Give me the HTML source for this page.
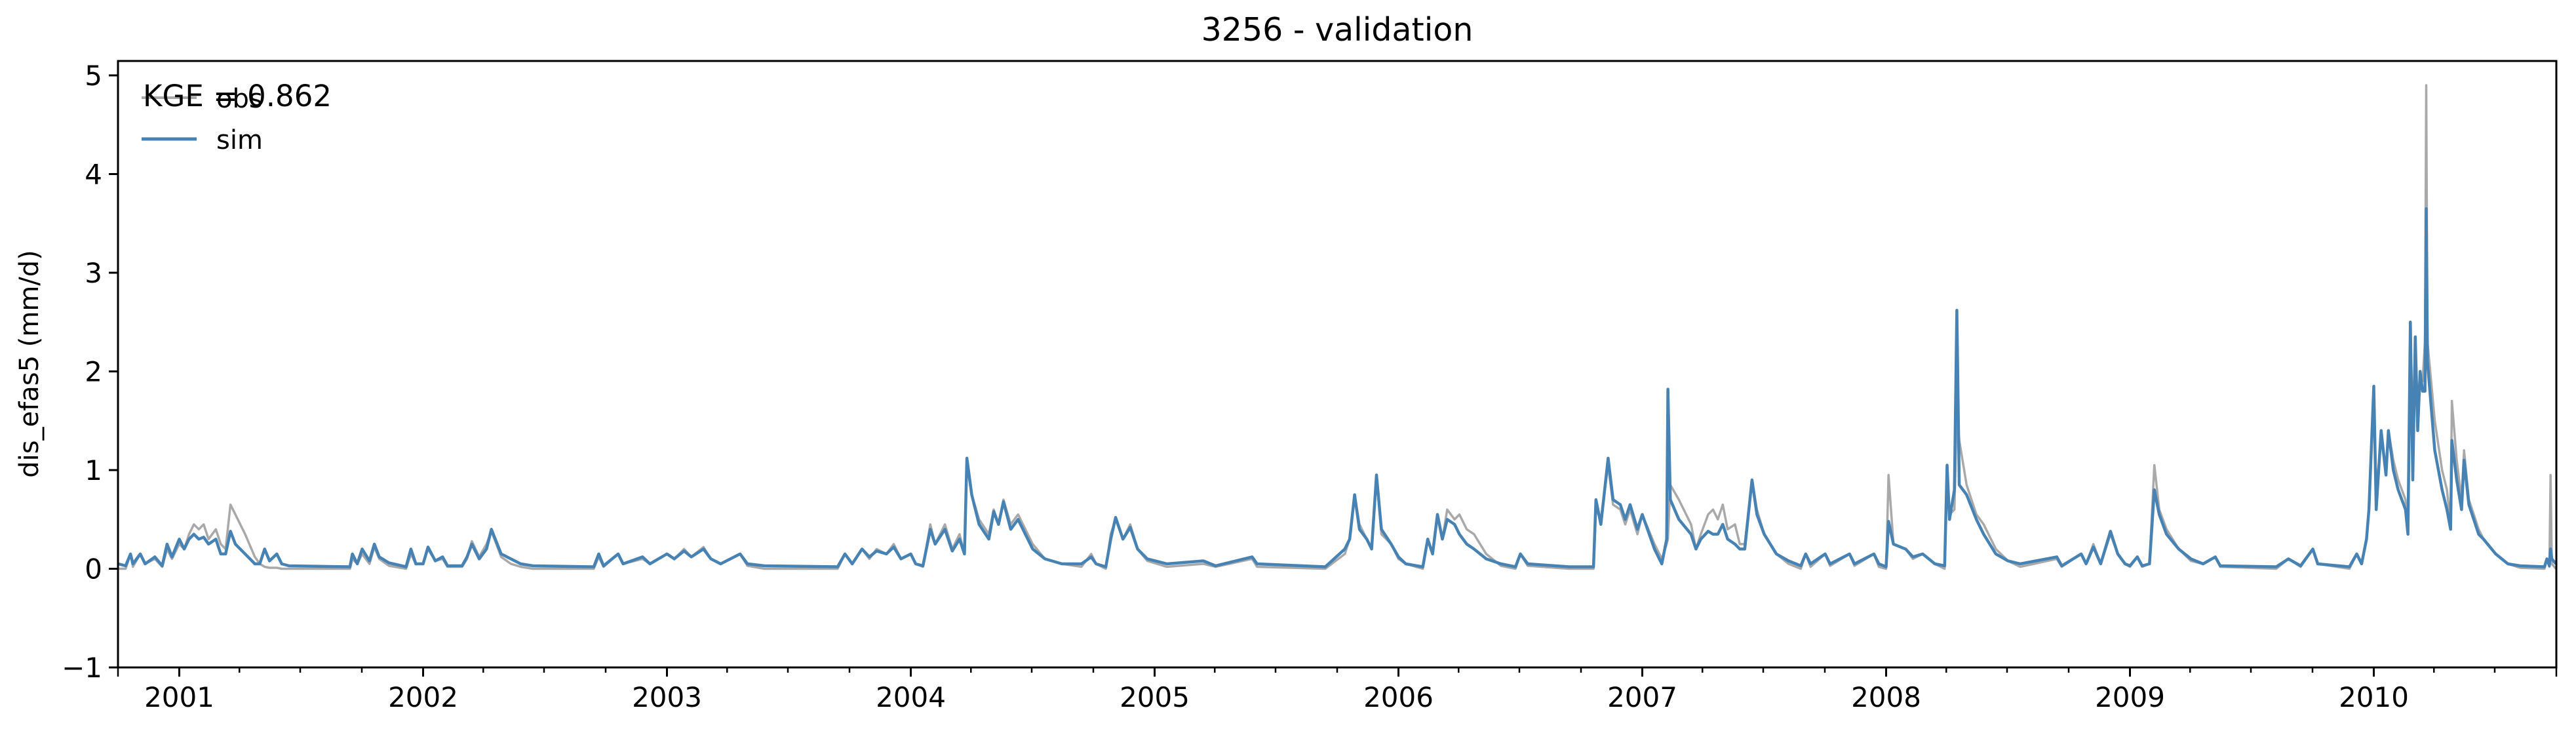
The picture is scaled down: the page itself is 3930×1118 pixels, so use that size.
<!DOCTYPE html>
<html><head><meta charset="utf-8"><style>
html,body{margin:0;padding:0;background:#fff}
svg{display:block;font-family:"DejaVu Sans","Liberation Sans",sans-serif}
</style></head><body>
<svg id="chart" width="3930" height="1118" viewBox="0 0 3930 1118">
<rect width="3930" height="1118" fill="#fff"/>
<text x="2040" y="62" font-size="49" text-anchor="middle">3256 - validation</text>
<text x="0" y="0" font-size="40" text-anchor="middle" transform="translate(58,555) rotate(-90)">dis_efas5 (mm/d)</text>
<g id="plot"></g>
<g id="axes"></g>
<g>
<line x1="216" y1="149" x2="300" y2="149" stroke="#a9a9a9" stroke-width="4"/>
<text x="330" y="164" font-size="40">obs</text>
<line x1="216" y1="212" x2="300" y2="212" stroke="#4682b4" stroke-width="5"/>
<text x="330" y="227" font-size="40">sim</text>
</g>
<text x="218" y="162" font-size="45">KGE = 0.862</text>
</svg>
<script>
const times = [2000.75,2000.78,2000.80,2000.81,2000.84,2000.86,2000.90,2000.93,2000.95,2000.97,2001.00,2001.02,2001.04,2001.06,2001.08,2001.10,2001.12,2001.15,2001.17,2001.19,2001.21,2001.23,2001.27,2001.31,2001.33,2001.35,2001.37,2001.40,2001.42,2001.45,2001.70,2001.71,2001.73,2001.75,2001.78,2001.80,2001.82,2001.86,2001.93,2001.95,2001.97,2002.00,2002.02,2002.05,2002.08,2002.10,2002.16,2002.18,2002.20,2002.23,2002.26,2002.28,2002.32,2002.36,2002.40,2002.45,2002.70,2002.72,2002.74,2002.80,2002.82,2002.90,2002.93,2003.00,2003.03,2003.07,2003.10,2003.15,2003.18,2003.22,2003.30,2003.33,2003.40,2003.70,2003.73,2003.76,2003.80,2003.83,2003.86,2003.90,2003.93,2003.96,2004.00,2004.02,2004.05,2004.08,2004.10,2004.14,2004.17,2004.20,2004.22,2004.23,2004.25,2004.28,2004.32,2004.34,2004.36,2004.38,2004.41,2004.44,2004.50,2004.55,2004.62,2004.70,2004.74,2004.76,2004.80,2004.82,2004.84,2004.87,2004.90,2004.93,2004.97,2005.05,2005.20,2005.25,2005.40,2005.42,2005.70,2005.78,2005.80,2005.82,2005.84,2005.87,2005.89,2005.91,2005.93,2005.97,2006.00,2006.03,2006.10,2006.12,2006.14,2006.16,2006.18,2006.20,2006.23,2006.25,2006.28,2006.31,2006.36,2006.42,2006.48,2006.50,2006.53,2006.70,2006.80,2006.81,2006.83,2006.86,2006.88,2006.91,2006.93,2006.95,2006.98,2007.00,2007.05,2007.08,2007.10,2007.105,2007.115,2007.15,2007.20,2007.22,2007.24,2007.27,2007.29,2007.31,2007.33,2007.35,2007.38,2007.40,2007.42,2007.45,2007.47,2007.50,2007.55,2007.60,2007.65,2007.67,2007.69,2007.75,2007.77,2007.85,2007.87,2007.95,2007.97,2008.00,2008.01,2008.03,2008.08,2008.11,2008.15,2008.20,2008.24,2008.25,2008.26,2008.28,2008.29,2008.30,2008.33,2008.37,2008.40,2008.45,2008.50,2008.55,2008.70,2008.72,2008.80,2008.82,2008.85,2008.88,2008.92,2008.95,2008.98,2009.00,2009.03,2009.05,2009.08,2009.10,2009.12,2009.15,2009.20,2009.25,2009.30,2009.35,2009.37,2009.60,2009.65,2009.70,2009.75,2009.77,2009.90,2009.93,2009.95,2009.97,2009.98,2010.00,2010.01,2010.03,2010.05,2010.06,2010.08,2010.10,2010.13,2010.14,2010.15,2010.16,2010.17,2010.18,2010.19,2010.20,2010.21,2010.215,2010.22,2010.25,2010.28,2010.30,2010.315,2010.32,2010.34,2010.36,2010.37,2010.39,2010.43,2010.45,2010.50,2010.55,2010.60,2010.70,2010.71,2010.72,2010.725,2010.73,2010.747];
const obsValues = [.00,.00,.15,.02,.15,.05,.10,.02,.20,.10,.25,.20,.35,.45,.40,.45,.30,.40,.25,.20,.65,.55,.35,.12,.05,.02,.01,.01,.00,.00,.00,.10,.05,.15,.05,.22,.10,.03,.00,.15,.05,.05,.20,.08,.10,.02,.02,.10,.28,.12,.25,.38,.12,.05,.02,.00,.00,.12,.02,.15,.05,.10,.05,.15,.10,.20,.12,.22,.10,.05,.15,.03,.00,.00,.15,.05,.20,.10,.20,.15,.25,.10,.15,.05,.02,.45,.25,.45,.20,.35,.15,1.05,.75,.50,.35,.60,.45,.70,.45,.55,.25,.10,.05,.02,.15,.05,.00,.35,.50,.30,.45,.20,.08,.02,.05,.02,.10,.02,.00,.15,.30,.75,.45,.30,.20,.95,.35,.25,.10,.05,.00,.30,.15,.55,.30,.60,.50,.55,.40,.35,.15,.03,.00,.15,.03,.00,.00,.60,.50,1.05,.65,.60,.45,.60,.35,.55,.25,.10,.25,.30,.85,.70,.45,.20,.35,.55,.60,.50,.65,.40,.45,.25,.25,.90,.60,.35,.15,.05,.00,.15,.02,.15,.03,.15,.03,.15,.02,.00,.95,.25,.20,.10,.15,.05,.00,1.00,.55,.60,1.60,1.30,.85,.55,.45,.20,.08,.02,.10,.02,.15,.05,.25,.05,.35,.15,.05,.02,.12,.02,.05,1.05,.60,.40,.20,.08,.05,.12,.02,.00,.10,.02,.20,.05,.00,.15,.05,.30,.60,1.80,.80,1.30,1.00,1.40,1.10,.90,.70,.40,2.40,1.50,2.30,1.60,2.00,1.90,2.30,4.90,2.30,1.50,1.00,.80,.45,1.70,1.10,.70,1.20,.70,.40,.30,.15,.05,.01,.00,.10,.02,.95,.05,.00];
const simValues = [.05,.03,.15,.05,.15,.05,.12,.03,.25,.12,.30,.20,.30,.35,.30,.32,.25,.30,.15,.15,.38,.25,.15,.05,.05,.20,.08,.15,.05,.03,.02,.15,.05,.20,.08,.25,.12,.06,.02,.20,.05,.05,.22,.08,.12,.03,.03,.12,.25,.10,.20,.40,.15,.10,.05,.03,.02,.15,.03,.15,.05,.12,.05,.15,.10,.18,.12,.20,.10,.05,.15,.05,.03,.02,.15,.05,.20,.12,.18,.15,.22,.10,.15,.05,.03,.40,.25,.40,.18,.30,.15,1.12,.75,.45,.30,.58,.45,.68,.40,.50,.20,.10,.05,.05,.12,.05,.02,.30,.52,.30,.42,.20,.10,.05,.08,.03,.12,.05,.02,.20,.30,.75,.40,.30,.20,.95,.40,.25,.12,.05,.02,.30,.15,.55,.30,.50,.45,.35,.25,.20,.10,.05,.02,.15,.05,.02,.02,.70,.45,1.12,.70,.65,.50,.65,.40,.55,.20,.05,.30,1.82,.70,.50,.35,.20,.30,.38,.35,.35,.45,.30,.25,.20,.20,.90,.55,.35,.15,.08,.03,.15,.05,.15,.05,.15,.05,.15,.05,.02,.48,.25,.20,.12,.15,.05,.03,1.05,.50,.80,2.62,.85,.75,.50,.35,.15,.08,.05,.12,.03,.15,.05,.22,.05,.38,.15,.05,.03,.12,.03,.05,.80,.55,.35,.20,.10,.05,.12,.03,.02,.10,.03,.20,.05,.02,.15,.05,.30,.60,1.85,.60,1.40,.95,1.40,1.00,.80,.60,.35,2.50,.90,2.35,1.40,2.00,1.80,1.80,3.65,2.10,1.20,.80,.60,.40,1.30,.90,.60,1.10,.65,.35,.30,.15,.05,.03,.02,.10,.03,.20,.10,.05];
const yTickValues = [-1,0,1,2,3,4,5];
const yearLabels = ["2001","2002","2003","2004","2005","2006","2007","2008","2009","2010"];

const L=180,R=3900,T=93,B=1018, YMIN=-1, YMAX=5.146;
const X0=2000.7486, X1=2010.7486;
const xScale=t=>L+(t-X0)/(X1-X0)*(R-L);
const yScale=v=>B-(v-YMIN)/(YMAX-YMIN)*(B-T);
const NS="http://www.w3.org/2000/svg";
const plot=document.getElementById('plot'), axes=document.getElementById('axes');
function mk(tag,attrs,parent){const e=document.createElementNS(NS,tag);for(const k in attrs)e.setAttribute(k,attrs[k]);parent.appendChild(e);return e;}

const defs=mk('defs',{},plot);const cp=mk('clipPath',{id:'clip'},defs);mk('rect',{x:L,y:T,width:R-L,height:B-T},cp);
function series(vals,color,w,name){
  const d=times.map((t,i)=>(i?'L':'M')+xScale(t).toFixed(1)+' '+yScale(vals[i]).toFixed(1)).join(' ');
  const p=mk('path',{d:d,fill:'none',stroke:color,'stroke-width':w,'stroke-linejoin':'round','clip-path':'url(#clip)'},plot);
  
  
}
series(obsValues,'#a9a9a9',3.5,'obs-line');
series(simValues,'#4682b4',4.5,'sim-line');

const fr=mk('rect',{x:L,y:T,width:R-L,height:B-T,fill:'none',stroke:'#000','stroke-width':3},axes);


yTickValues.forEach(v=>{
  const y=yScale(v);
  const tk=mk('line',{x1:L-14,y1:y,x2:L,y2:y,stroke:'#000','stroke-width':3},axes);
  
  
  const tx=mk('text',{x:L-24,y:y+15,'font-size':42,'text-anchor':'end'},axes);
  tx.textContent=(v<0?'\u2212'+Math.abs(v):String(v));
  
  
});
yearLabels.forEach(lbl=>{
  const yr=+lbl;
  const x=xScale(yr);
  const tk=mk('line',{x1:x,y1:B,x2:x,y2:B+14,stroke:'#000','stroke-width':3},axes);
  
  
  const tx=mk('text',{x:x,y:1078,'font-size':42,'text-anchor':'middle'},axes);
  tx.textContent=lbl;
  
  
});
for(let yr=2000;yr<=2010;yr++){[0.2466,0.4959,0.7486].forEach(f=>{
  const t=yr+f; if(t<X0-1e-6||t>X1+1e-6)return;
  const x=xScale(t);
  const m=mk('line',{x1:x,y1:B,x2:x,y2:B+(Math.abs(t-X0)<1e-3||Math.abs(t-X1)<1e-3?14:8),stroke:'#000','stroke-width':2.5},axes);
  
  
});}
</script>
</body></html>
